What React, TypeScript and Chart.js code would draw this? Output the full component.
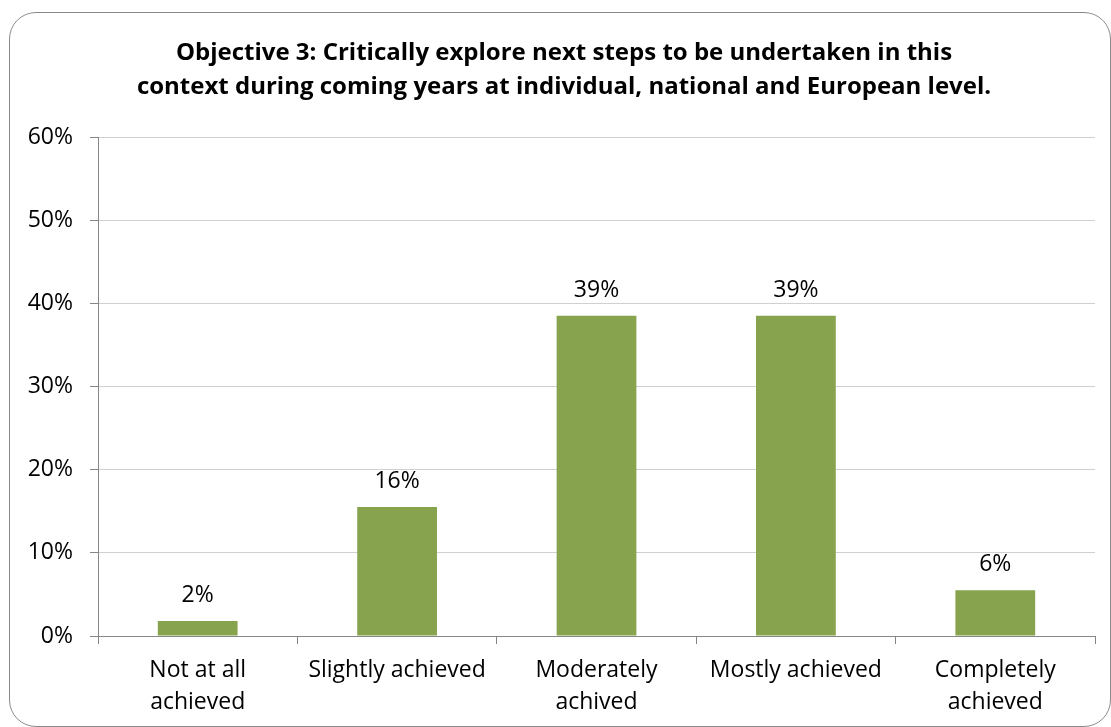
import React, { useEffect, useRef } from "react";
import { Chart, registerables } from "chart.js";

Chart.register(...registerables);

// ---- data ----
const categories: string[][] = [
  ["Not at all", "achieved"],
  ["Slightly achieved"],
  ["Moderately", "achived"],
  ["Mostly achieved"],
  ["Completely", "achieved"],
];
const values: number[] = [1.8, 15.5, 38.5, 38.5, 5.5];
const yMin = 0;
const yMax = 60;
const yStep = 10;
const titleLines: string[] = [
  "Objective 3: Critically explore next steps to be undertaken in this",
  "context during coming years at individual, national and European level.",
];

const FONT = "'Open Sans', Lato, sans-serif";
const BAR_COLOR = "#87a34d";
const AXIS_COLOR = "#868686";
const GRID_COLOR = "#d0d0d0";

const barLabelPlugin = {
  id: "barLabels",
  afterDatasetsDraw(chart: any) {
    const ctx = chart.ctx;
    const meta = chart.getDatasetMeta(0);
    ctx.save();
    ctx.font = `23px ${FONT}`;
    ctx.fillStyle = "#000";
    ctx.textAlign = "center";
    ctx.textBaseline = "alphabetic";
    meta.data.forEach((bar: any, i: number) => {
      ctx.fillText(Math.round(values[i]) + "%", bar.x, bar.y - 19);
    });
    ctx.restore();
  },
};

const titlePlugin = {
  id: "chartTitle",
  afterDraw(chart: any) {
    const ctx = chart.ctx;
    ctx.save();
    ctx.font = `bold 24px ${FONT}`;
    ctx.fillStyle = "#000";
    ctx.textAlign = "center";
    ctx.textBaseline = "alphabetic";
    titleLines.forEach((line, i) => {
      ctx.fillText(line, 564, 59.5 + i * 34.5);
    });
    ctx.restore();
  },
};

export default function App() {
  const canvasRef = useRef<HTMLCanvasElement | null>(null);

  useEffect(() => {
    document.body.style.overflow = "hidden";
    const canvas = canvasRef.current;
    if (!canvas) return;
    const chart = new Chart(canvas, {
      type: "bar",
      data: {
        labels: categories,
        datasets: [
          {
            data: values,
            backgroundColor: BAR_COLOR,
            borderWidth: 0,
            barPercentage: 0.4,
            categoryPercentage: 1,
          },
        ],
      },
      options: {
        responsive: false,
        animation: false,
        layout: { padding: { left: 0, right: 16, top: 137, bottom: 0 } },
        plugins: {
          legend: { display: false },
          tooltip: { enabled: false },
          title: { display: false },
        },
        scales: {
          x: {
            offset: true,
            grid: {
              offset: true,
              drawOnChartArea: false,
              drawTicks: true,
              tickLength: 8,
              tickColor: AXIS_COLOR,
              color: AXIS_COLOR,
            },
            border: { display: true, color: AXIS_COLOR, width: 1 },
            ticks: {
              color: "#000",
              font: { family: FONT, size: 23, lineHeight: 1.41 },
              padding: 10,
              maxRotation: 0,
              autoSkip: false,
            },
            afterFit: (scale: any) => {
              scale.height = 91;
            },
          },
          y: {
            min: yMin,
            max: yMax,
            grid: {
              color: GRID_COLOR,
              lineWidth: 1,
              borderDash: [4, 2],
              drawTicks: true,
              tickLength: 8,
              tickColor: AXIS_COLOR,
              tickBorderDash: [],
            },
            border: { display: true, color: AXIS_COLOR, width: 1 },
            ticks: {
              stepSize: yStep,
              color: "#000",
              font: { family: FONT, size: 23 },
              padding: 17,
              callback: (v: any) => v + "%",
            },
            afterFit: (scale: any) => {
              scale.width = 98;
            },
          },
        },
      },
      plugins: [barLabelPlugin, titlePlugin],
    });
    return () => chart.destroy();
  }, []);

  return (
    <div style={{ position: "absolute", left: 0, top: 0, width: 1111, height: 727, background: "#fff" }}>
      <canvas
        ref={canvasRef}
        width={1111}
        height={727}
        style={{ position: "absolute", left: 0, top: 0, width: 1111, height: 727 }}
      />
      <div
        style={{
          position: "absolute",
          left: 9,
          top: 12,
          width: 1102,
          height: 715,
          border: "1.5px solid #8a8a8a",
          borderRadius: 27,
          boxSizing: "border-box",
          pointerEvents: "none",
        }}
      />
    </div>
  );
}
